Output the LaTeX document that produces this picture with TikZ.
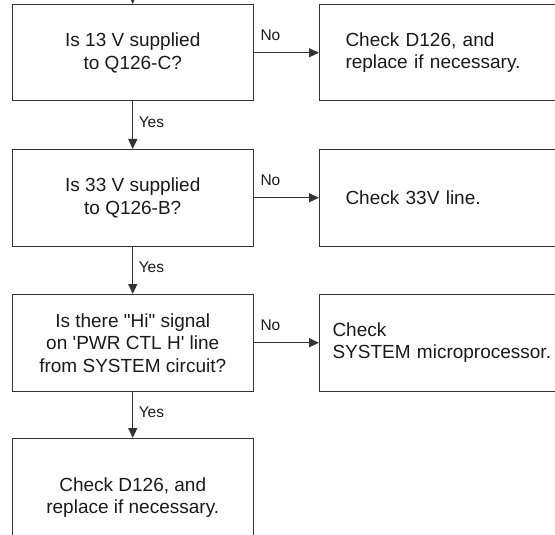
\documentclass[tikz,border=0pt]{standalone}
\usepackage{fontspec}
\setmainfont{Liberation Sans}[Ligatures=TeXOff]
\usetikzlibrary{arrows.meta}
\definecolor{linec}{HTML}{333333}
\definecolor{txtc}{HTML}{1A1A1A}
\newcommand\boxfont{\fontsize{19}{22.5}\selectfont}
\newcommand\lblfont{\fontsize{15.5}{18}\selectfont}
\tikzset{
  qbox/.style={draw=linec, line width=1pt, minimum width=241.5pt, minimum height=96.5pt,
    inner sep=0pt, align=center, font=\boxfont, text=txtc},
  abox/.style={draw=linec, line width=1pt, minimum width=260pt, minimum height=96.5pt,
    inner ysep=0pt, align=left, font=\boxfont, text=txtc},
  arr/.style={draw=linec, line width=1pt, -{Triangle[length=10pt,width=9pt]}},
  lbl/.style={font=\lblfont, text=txtc, inner sep=0pt},
  nolbl/.style={lbl, pos=0, anchor=south west, xshift=6pt, yshift=11.4pt},
  yeslbl/.style={lbl, pos=0, anchor=north west, xshift=5.5pt, yshift=-14.4pt}
}
\begin{document}
\begin{tikzpicture}[x=1pt,y=-1pt]
\path[use as bounding box] (0,0) rectangle (555,535);
\clip (0,0) rectangle (555,535);
% decision boxes
\node[qbox, anchor=north west] (q1) at (11.5,4) {Is 13 V supplied\\to Q126-C?};
\node[qbox, anchor=north west] (q2) at (11.5,149) {Is 33 V supplied\\to Q126-B?};
\node[qbox, anchor=north west] (q3) at (11.5,294) {Is there "Hi" signal\\on 'PWR CTL H' line\\from SYSTEM circuit?};
\node[qbox, anchor=north west, minimum height=118pt] (q4) at (11.5,438) {Check D126, and\\replace if necessary.};
% action boxes
\node[abox, inner xsep=26pt, text width=208pt, anchor=north west] (r1) at (319,4) {Check D126, and\\replace if necessary.};
\node[abox, inner xsep=26pt, text width=208pt, anchor=north west] (r2) at (319,149) {Check 33V line.};
\node[abox, inner xsep=13pt, text width=234pt, anchor=north west] (r3) at (319,294) {Check\\SYSTEM microprocessor.};
% connectors
\coordinate (top) at (132.25,-12);
\draw[arr] (top) -- (q1.north);
\draw[arr] (q1.east) -- node[nolbl] {No} (r1.west);
\draw[arr] (q2.east) -- node[nolbl] {No} (r2.west);
\draw[arr] (q3.east) -- node[nolbl] {No} (r3.west);
\draw[arr] (q1.south) -- node[yeslbl] {Yes} (q2.north);
\draw[arr] (q2.south) -- node[yeslbl] {Yes} (q3.north);
\draw[arr] (q3.south) -- node[yeslbl] {Yes} (q4.north);
\end{tikzpicture}
\end{document}
